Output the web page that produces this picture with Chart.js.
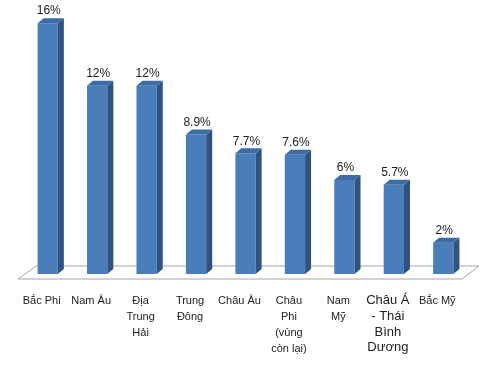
<!DOCTYPE html>
<html>
<head>
<meta charset="utf-8">
<script src="https://cdn.jsdelivr.net/npm/chart.js@4"></script>
<style>
html,body{margin:0;padding:0;background:#fff;}
#wrap{width:500px;height:366px;position:relative;}
</style>
</head>
<body>
<div id="wrap"><canvas id="c"></canvas></div>
<script>
const categories = [
  ["Bắc Phi"],
  ["Nam Âu"],
  ["Địa", "Trung", "Hải"],
  ["Trung", "Đông"],
  ["Châu Âu"],
  ["Châu", "Phi", "(vùng", "còn lại)"],
  ["Nam", "Mỹ"],
  ["Châu Á", "- Thái", "Bình", "Dương"],
  ["Bắc Mỹ"]
];
const values = [16, 12, 12, 8.9, 7.7, 7.6, 6, 5.7, 2];
const valueLabels = ["16%", "12%", "12%", "8.9%", "7.7%", "7.6%", "6%", "5.7%", "2%"];

const FRONT = '#4a7ebb';
const SIDE = '#2f5380';
const TOP = '#3d6ca5';
const DX = 6, DY = 5;

const plugin3d = {
  id: 'bars3d',
  beforeDatasetsDraw(chart) {
    const ctx = chart.ctx, a = chart.chartArea;
    ctx.save();
    ctx.beginPath();
    ctx.moveTo(a.left - 5, a.bottom + 5);
    ctx.lineTo(a.left + 13, a.bottom - 8);
    ctx.lineTo(a.right + 11, a.bottom - 8);
    ctx.lineTo(a.right - 6, a.bottom + 5);
    ctx.closePath();
    ctx.fillStyle = '#ffffff';
    ctx.fill();
    ctx.strokeStyle = '#a6a6a6';
    ctx.lineWidth = 1;
    ctx.stroke();
    ctx.restore();
  },
  afterDatasetsDraw(chart) {
    const ctx = chart.ctx;
    const meta = chart.getDatasetMeta(0);
    ctx.save();
    meta.data.forEach((bar, i) => {
      const p = bar.getProps(['x', 'y', 'width', 'base'], true);
      const l = p.x - p.width / 2, r = p.x + p.width / 2, t = p.y, b = p.base;
      ctx.beginPath();
      ctx.moveTo(r, t);
      ctx.lineTo(r + DX, t - DY);
      ctx.lineTo(r + DX, b - DY);
      ctx.lineTo(r, b);
      ctx.closePath();
      ctx.fillStyle = SIDE;
      ctx.fill();
      ctx.beginPath();
      ctx.moveTo(l, t);
      ctx.lineTo(l + DX, t - DY);
      ctx.lineTo(r + DX, t - DY);
      ctx.lineTo(r, t);
      ctx.closePath();
      ctx.fillStyle = TOP;
      ctx.fill();
      ctx.fillStyle = '#1a1a1a';
      ctx.font = '12px "Liberation Sans", Arial, sans-serif';
      ctx.textAlign = 'center';
      ctx.textBaseline = 'middle';
      ctx.fillText(valueLabels[i], p.x + 1, t - 12);
    });
    ctx.restore();
  }
};

new Chart(document.getElementById('c'), {
  type: 'bar',
  data: {
    labels: categories,
    datasets: [{
      data: values,
      backgroundColor: FRONT,
      borderWidth: 0,
      barPercentage: 0.41,
      categoryPercentage: 1
    }]
  },
  options: {
    responsive: true,
    maintainAspectRatio: false,
    animation: false,
    layout: { padding: { top: 20, left: 23, right: 32, bottom: 0 } },
    plugins: { legend: { display: false }, tooltip: { enabled: false } },
    scales: {
      y: { display: false, min: 0, max: 16.2 },
      x: {
        grid: { display: false, drawTicks: false },
        border: { display: false },
        afterFit: (scale) => { scale.height = 92; },
        ticks: {
          autoSkip: false,
          maxRotation: 0,
          minRotation: 0,
          labelOffset: -6,
          padding: 19,
          color: '#222',
          font: (ctx) => ctx.index === 7
            ? { family: '"Liberation Sans", Arial, sans-serif', size: 13, lineHeight: 1.2 }
            : { family: '"Liberation Sans", Arial, sans-serif', size: 11, lineHeight: 1.45 }
        }
      }
    }
  },
  plugins: [plugin3d]
});
</script>
</body>
</html>
